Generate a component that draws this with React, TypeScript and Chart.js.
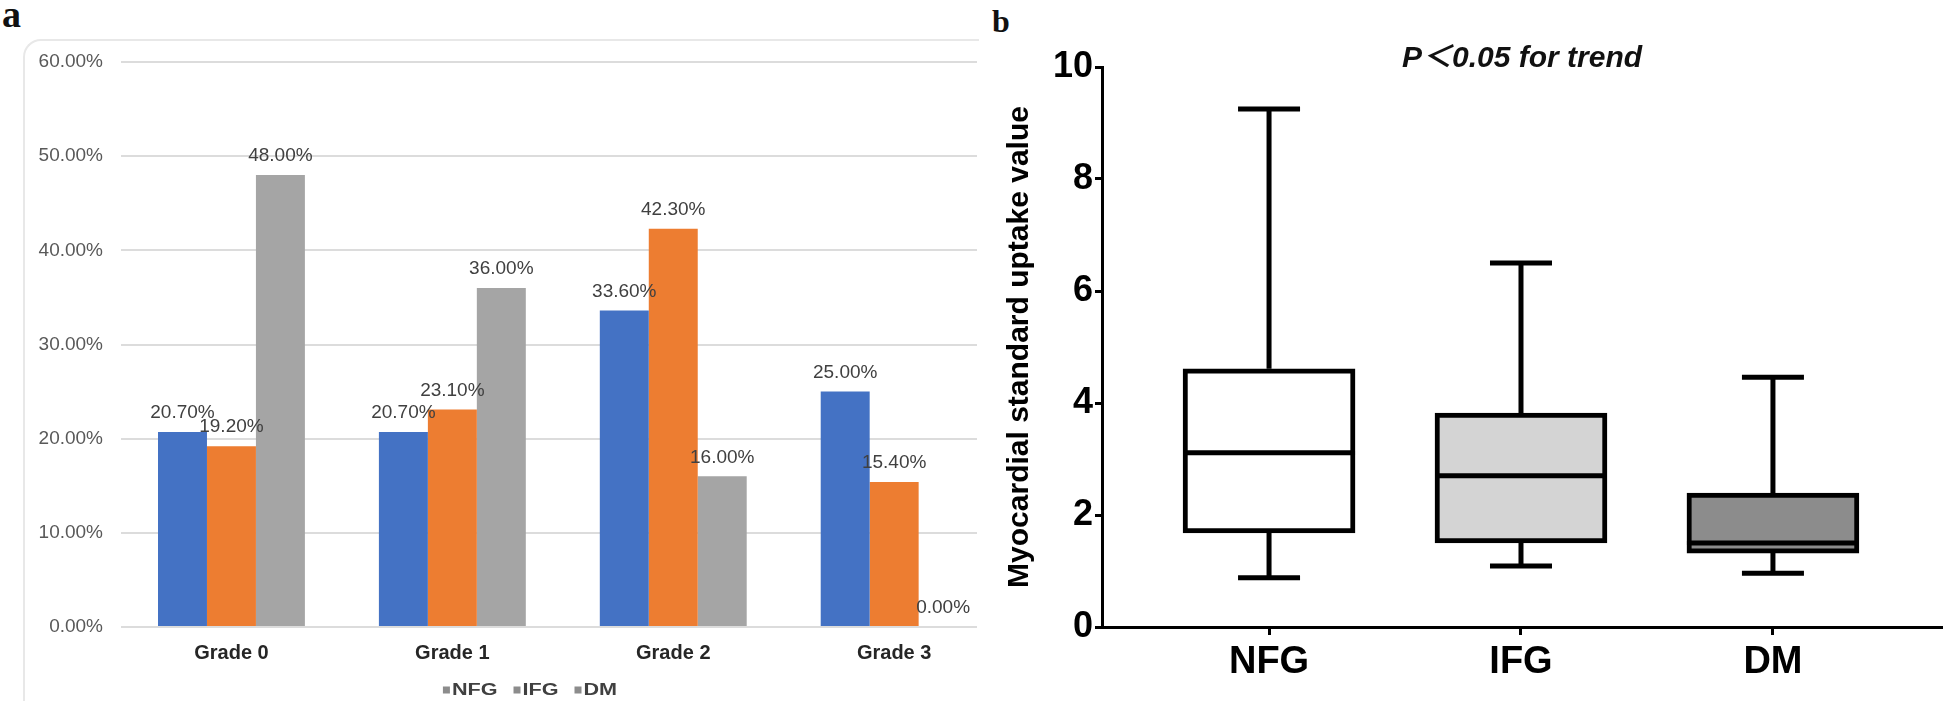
import React, { useEffect, useRef } from "react";
import { Chart, registerables } from "chart.js";

Chart.register(...registerables);

// ---------- Panel a data ----------
const gradeLabels = ["Grade 0", "Grade 1", "Grade 2", "Grade 3"];
const seriesNames = ["NFG", "IFG", "DM"];
const nfgPct = [20.7, 20.7, 33.6, 25.0];
const ifgPct = [19.2, 23.1, 42.3, 15.4];
const dmPct = [48.0, 36.0, 16.0, 0.0];
const pctTicks = [0, 10, 20, 30, 40, 50, 60];

// ---------- Panel b data ----------
const groups = ["NFG", "IFG", "DM"];
const whiskerMin = [0.88, 1.09, 0.96];
const q1 = [1.68, 1.5, 1.32];
const median = [3.11, 2.7, 1.5];
const q3 = [4.61, 3.82, 2.39];
const whiskerMax = [9.25, 6.5, 4.46];
const suvTicks = [0, 2, 4, 6, 8, 10];
const trendText = "P\uFF1C0.05 for trend";
const yTitleB = "Myocardial standard uptake value";

const SANS = '"Liberation Sans", Arial, sans-serif';
const SANS_CJK = '"Liberation Sans", Arial, "Noto Sans CJK SC", sans-serif';
const SERIF = '"Liberation Serif", "Times New Roman", serif';
const barColors = ["#4472C4", "#ED7D31", "#A5A5A5"];
const boxFills = ["#ffffff", "#d4d4d4", "#8c8c8c"];

const dataLabelPlugin = {
  id: "dataLabels",
  afterDatasetsDraw(chart: any) {
    const ctx = chart.ctx;
    ctx.save();
    ctx.font = `19px ${SANS}`;
    ctx.fillStyle = "#404040";
    ctx.textAlign = "center";
    ctx.textBaseline = "middle";
    chart.data.datasets.forEach((ds: any, i: number) => {
      const meta = chart.getDatasetMeta(i);
      meta.data.forEach((el: any, j: number) => {
        const v = ds.data[j].y as number;
        ctx.fillText(v.toFixed(2) + "%", el.x, el.y - 19);
      });
    });
    ctx.restore();
  },
};

const legendPlugin = {
  id: "grayLegend",
  afterDraw(chart: any) {
    const ctx = chart.ctx;
    ctx.save();
    ctx.font = `bold 16px ${SANS}`;
    const box = 7;
    const gap = 2;
    const itemGap = 16;
    const stretch = 1.35;
    const names: string[] = chart.data.datasets.map((d: any) => d.label);
    const widths = names.map((n) => box + gap + ctx.measureText(n).width * stretch);
    const total = widths.reduce((a, b) => a + b, 0) + itemGap * (names.length - 1);
    let x = 530 - total / 2;
    const y = 690;
    names.forEach((n, i) => {
      ctx.fillStyle = "#8c8c8c";
      ctx.fillRect(x, y - box / 2, box, box);
      ctx.fillStyle = "#404040";
      ctx.textAlign = "left";
      ctx.textBaseline = "middle";
      ctx.save();
      ctx.translate(x + box + gap, y + 1);
      ctx.scale(stretch, 1);
      ctx.fillText(n, 0, 0);
      ctx.restore();
      x += widths[i] + itemGap;
    });
    ctx.restore();
  },
};

const boxPlugin = {
  id: "boxWhiskers",
  afterDatasetsDraw(chart: any) {
    const { ctx } = chart;
    const xs = chart.scales.x;
    const ys = chart.scales.y;
    const meta = chart.getDatasetMeta(0);
    ctx.save();
    ctx.strokeStyle = "#000";
    ctx.lineWidth = 5;
    ctx.lineCap = "butt";
    groups.forEach((_, i) => {
      const cx = xs.getPixelForValue(i);
      const el = meta.data[i];
      const half = el.width / 2;
      const capHalf = 31;
      const yMax = ys.getPixelForValue(whiskerMax[i]);
      const yMin = ys.getPixelForValue(whiskerMin[i]);
      const yQ1 = ys.getPixelForValue(q1[i]);
      const yQ3 = ys.getPixelForValue(q3[i]);
      const yMed = ys.getPixelForValue(median[i]);
      ctx.beginPath();
      ctx.moveTo(cx, yQ3);
      ctx.lineTo(cx, yMax);
      ctx.moveTo(cx - capHalf, yMax);
      ctx.lineTo(cx + capHalf, yMax);
      ctx.moveTo(cx, yQ1);
      ctx.lineTo(cx, yMin);
      ctx.moveTo(cx - capHalf, yMin);
      ctx.lineTo(cx + capHalf, yMin);
      ctx.moveTo(cx - half, yMed);
      ctx.lineTo(cx + half, yMed);
      ctx.stroke();
    });
    ctx.restore();
  },
};

const trendTitlePlugin = {
  id: "trendTitle",
  afterDraw(chart: any) {
    const { ctx, chartArea } = chart;
    ctx.save();
    ctx.font = `italic bold 30px ${SANS_CJK}`;
    ctx.fillStyle = "#111";
    ctx.textAlign = "center";
    ctx.textBaseline = "middle";
    ctx.fillText(trendText, (chartArea.left + chartArea.right) / 2, 59);
    ctx.restore();
  },
};

export default function App() {
  const refA = useRef<HTMLCanvasElement>(null);
  const refB = useRef<HTMLCanvasElement>(null);

  useEffect(() => {
    const seriesValues = [nfgPct, ifgPct, dmPct];
    const chartA = new Chart(refA.current as HTMLCanvasElement, {
      type: "bar",
      data: {
        datasets: seriesNames.map((name, k) => ({
          label: name,
          data: seriesValues[k].map((v, i) => ({ x: i, y: v })),
          backgroundColor: barColors[k],
          borderWidth: 0,
          barPercentage: 1,
          categoryPercentage: 0.665,
        })),
      } as any,
      options: {
        responsive: false,
        animation: false,
        devicePixelRatio: 1,
        layout: { padding: { top: 62, left: 0, right: 8, bottom: 0 } },
        plugins: {
          legend: { display: false },
          tooltip: { enabled: false },
          title: { display: false },
        },
        scales: {
          x: {
            type: "linear",
            min: -0.5,
            max: 3.375,
            offset: false,
            grid: { display: false, offset: false },
            border: { display: false },
            afterBuildTicks: (s: any) => {
              s.ticks = gradeLabels.map((_, i) => ({ value: i }));
            },
            afterFit: (s: any) => {
              s.height = 74;
            },
            ticks: {
              callback: (v: any) => gradeLabels[v] ?? "",
              font: { family: SANS, size: 20, weight: "bold" },
              color: "#262626",
              padding: 6,
              maxRotation: 0,
              autoSkip: false,
            },
          },
          y: {
            min: 0,
            max: 60,
            afterBuildTicks: (s: any) => {
              s.ticks = pctTicks.map((v) => ({ value: v }));
            },
            afterFit: (s: any) => {
              s.width = 121;
            },
            grid: { color: "#dcdcdc", lineWidth: 2, drawTicks: false },
            border: { display: false },
            ticks: {
              callback: (v: any) => Number(v).toFixed(2) + "%",
              font: { family: SANS, size: 19 },
              color: "#595959",
              padding: 18,
            },
          },
        },
      } as any,
      plugins: [dataLabelPlugin, legendPlugin],
    });

    const chartB = new Chart(refB.current as HTMLCanvasElement, {
      type: "bar",
      data: {
        datasets: [
          {
            label: "IQR",
            data: groups.map((_, i) => ({ x: i, y: [q1[i], q3[i]] })),
            backgroundColor: boxFills,
            borderColor: "#000",
            borderWidth: 5,
            borderSkipped: false,
            barThickness: 172,
          },
        ],
      } as any,
      options: {
        responsive: false,
        animation: false,
        devicePixelRatio: 1,
        layout: { padding: { top: 67, left: 0, right: 4, bottom: 0 } },
        plugins: {
          legend: { display: false },
          tooltip: { enabled: false },
          title: { display: false },
        },
        scales: {
          x: {
            type: "linear",
            min: -0.663,
            max: 2.671,
            offset: false,
            afterBuildTicks: (s: any) => {
              s.ticks = groups.map((_, i) => ({ value: i }));
            },
            afterFit: (s: any) => {
              s.height = 74;
            },
            grid: {
              offset: false,
              drawOnChartArea: false,
              drawTicks: true,
              tickLength: 8,
              tickWidth: 3,
              tickColor: "#000",
            },
            border: { display: true, color: "#000", width: 3 },
            ticks: {
              callback: (v: any) => groups[v] ?? "",
              font: { family: SANS, size: 38, weight: "bold" },
              color: "#000",
              padding: 5,
              maxRotation: 0,
              autoSkip: false,
            },
          },
          y: {
            min: 0,
            max: 10,
            afterBuildTicks: (s: any) => {
              s.ticks = suvTicks.map((v) => ({ value: v }));
            },
            afterFit: (s: any) => {
              s.width = 117;
            },
            grid: {
              drawOnChartArea: false,
              drawTicks: true,
              tickLength: 7,
              tickWidth: 3,
              tickColor: "#000",
            },
            border: { display: true, color: "#000", width: 3 },
            ticks: {
              font: { family: SANS, size: 36, weight: "bold" },
              color: "#000",
              padding: 2,
            },
            title: {
              display: true,
              text: yTitleB,
              font: { family: SANS, size: 30, weight: "bold" },
              color: "#000",
              padding: { top: 17, bottom: 0 },
            },
          },
        },
      } as any,
      plugins: [boxPlugin, trendTitlePlugin],
    });

    return () => {
      chartA.destroy();
      chartB.destroy();
    };
  }, []);

  return (
    <div
      style={{
        position: "fixed",
        left: 0,
        top: 0,
        width: 1946,
        height: 701,
        background: "#fff",
        overflow: "hidden",
      }}
    >
      <div
        style={{
          position: "absolute",
          left: 23,
          top: 39,
          width: 954,
          height: 680,
          borderTop: "2px solid #e8e8e8",
          borderLeft: "2px solid #e8e8e8",
          borderTopLeftRadius: 18,
        }}
      />
      <div
        style={{
          position: "absolute",
          left: 2,
          top: -5,
          font: `bold 38px ${SERIF}`,
          lineHeight: 1,
          color: "#111",
        }}
      >
        a
      </div>
      <div
        style={{
          position: "absolute",
          left: 992,
          top: 5,
          font: `bold 32px ${SERIF}`,
          lineHeight: 1,
          color: "#111",
        }}
      >
        b
      </div>
      <canvas
        ref={refA}
        width={985}
        height={701}
        style={{ position: "absolute", left: 0, top: 0, width: 985, height: 701 }}
      />
      <canvas
        ref={refB}
        width={961}
        height={701}
        style={{ position: "absolute", left: 985, top: 0, width: 961, height: 701 }}
      />
    </div>
  );
}
